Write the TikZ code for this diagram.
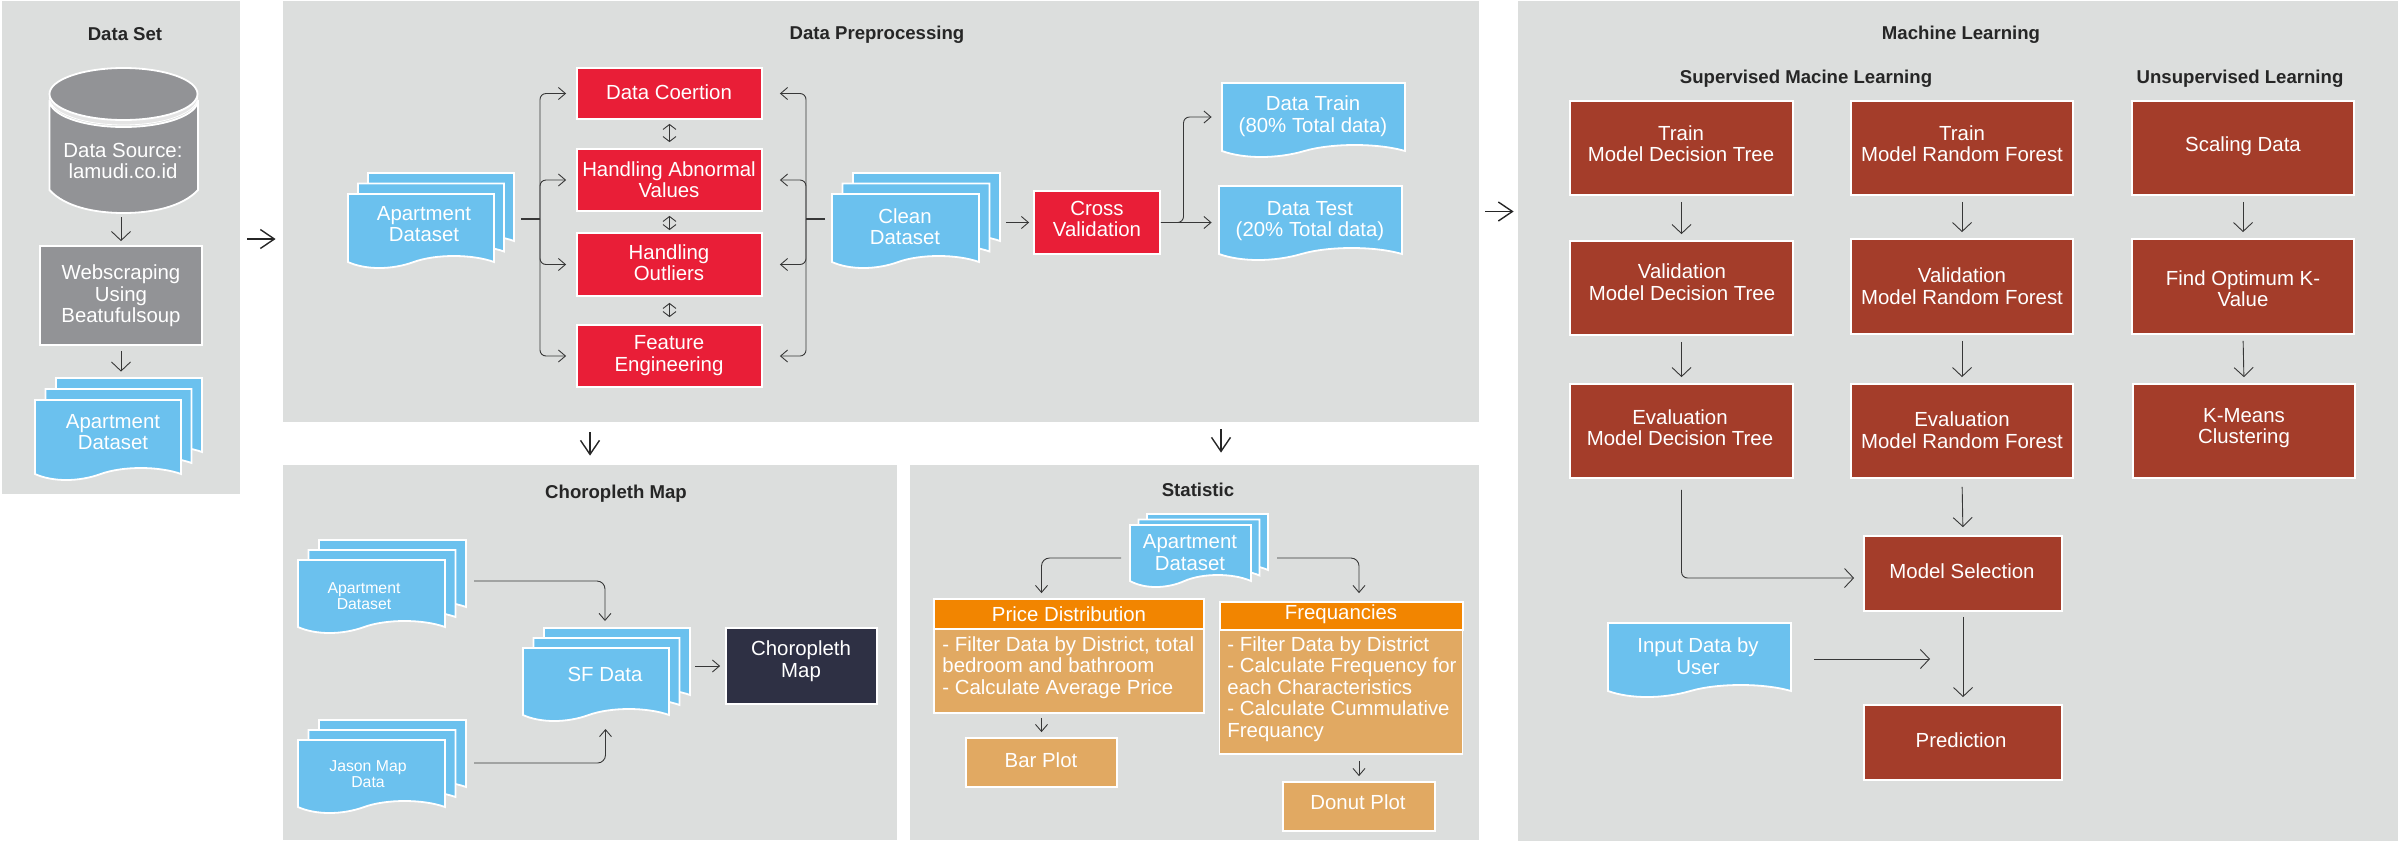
\documentclass[tikz,border=0pt]{standalone}
\usepackage{fontspec}
\setmainfont{Liberation Sans}
\usetikzlibrary{arrows.meta}
\definecolor{mypanel}{RGB}{220,222,221}
\definecolor{myblue}{RGB}{107,193,238}
\definecolor{myred}{RGB}{233,30,55}
\definecolor{mybrown}{RGB}{164,61,42}
\definecolor{mygray}{RGB}{146,147,150}
\definecolor{myorange}{RGB}{242,133,0}
\definecolor{mytan}{RGB}{225,169,98}
\definecolor{mynavy}{RGB}{46,48,68}
\definecolor{myline}{RGB}{55,55,55}
\tikzset{
  panel/.style={fill=mypanel, inner sep=0pt},
  whitebox/.style={draw=white, line width=0.9pt, inner sep=0pt},
  redbox/.style={whitebox, fill=myred},
  mlbox/.style={whitebox, fill=mybrown},
  graybox/.style={whitebox, fill=mygray},
  navybox/.style={whitebox, fill=mynavy},
  headbox/.style={whitebox, fill=myorange},
  tanbox/.style={whitebox, fill=mytan},
  docbox/.style={inner sep=0pt},
  docline/.style={draw=white, line width=0.9pt, fill=myblue},
  title/.style={text=black!85, font=\fontsize{9.3}{11}\bfseries\selectfont, align=center},
  boxtext/.style={text=white, font=\fontsize{10.2}{10.75}\selectfont, align=center, inner sep=0pt},
  smalltext/.style={text=white, font=\fontsize{7.9}{8}\selectfont, align=center, inner sep=0pt},
  listtext/.style={text=white, font=\fontsize{10.2}{10.75}\selectfont, align=left, anchor=west, inner sep=0pt},
  flow/.style={draw=myline, line width=0.45pt, -{Straight Barb[length=4.5pt,width=9.5pt]}, shorten >=3pt, shorten <=3pt},
  thinflow/.style={flow, -{Straight Barb[length=3.5pt,width=6pt]}},
  bothflow/.style={draw=myline, line width=0.45pt, {Straight Barb[length=2.5pt,width=6.5pt]}-{Straight Barb[length=2.5pt,width=6.5pt]}},
  bigflow/.style={draw=black!85, line width=0.7pt, -{Straight Barb[length=7pt,width=9.5pt]}}
}
\newcommand{\flowbox}[9]{
  \node[#2, minimum width={(#5-#3)*0.5pt}, minimum height={(#6-#4)*0.5pt}] (#1) at ({(#3+#5)/2},{(#4+#6)/2}) {};
  \node[boxtext] (#1-text) at (#7,#8) {#9};
}
\newcommand{\docnode}[5]{
  \draw[docline] ({#2},{#3}) -- ({#4},{#3}) -- ({#4},{#5})
    .. controls ({#4-0.15*(#4-#2)},{#5-8}) and ({#4-0.4*(#4-#2)},{#5-8}) .. ({#2+0.45*(#4-#2)},{#5})
    .. controls ({#2+0.3*(#4-#2)},{#5+8}) and ({#2+0.12*(#4-#2)},{#5+8}) .. ({#2},{#5}) -- cycle;
  \node[docbox, minimum width={(#4-#2)*0.5pt}, minimum height={(#5-(#3))*0.5pt}] (#1) at ({(#2+#4)/2},{(#3+#5)/2}) {};
}
\newcommand{\docstack}[7]{
  \docnode{#1-back}{(#2+2*#6)}{(#3-2*#7)}{(#4+2*#6)}{(#5-2*#7)}
  \docnode{#1-mid}{(#2+#6)}{(#3-#7)}{(#4+#6)}{(#5-#7)}
  \docnode{#1}{#2}{#3}{#4}{#5}
}
\begin{document}
\begin{tikzpicture}[x=0.5pt,y=-0.5pt]
  \useasboundingbox (0,0) rectangle (2398,842);

  \node[panel, minimum width=119pt, minimum height=246.5pt] (setpanel) at (121,247.5) {};
  \node[panel, minimum width=598pt, minimum height=210.5pt] (prepanel) at (881,211.5) {};
  \node[panel, minimum width=307pt, minimum height=187.5pt] (mappanel) at (590,652.5) {};
  \node[panel, minimum width=284.5pt, minimum height=187.5pt] (statpanel) at (1194.5,652.5) {};
  \node[panel, minimum width=440pt, minimum height=420pt] (mlpanel) at (1958,421) {};
  \node[title] (settitle) at (125,34) {Data Set};
  \node[title] (pretitle) at (877,35) {Data Preprocessing};
  \node[title] (maptitle) at (616,494) {Choropleth Map};
  \node[title] (stattitle) at (1198,490) {Statistic};
  \node[title] (mltitle) at (1961,35) {Machine Learning};
  \node[title] (suptitle) at (1806,79) {Supervised Macine Learning};
  \node[title] (unsuptitle) at (2240,79) {Unsupervised Learning};

  \draw[white, line width=0.9pt, fill=mygray] (49.5,100) -- (49.5,190)
    .. controls (65,207) and (95,213) .. (123.5,213)
    .. controls (152,213) and (182,207) .. (198,190) -- (198,100)
    .. controls (198,115) and (165,127) .. (123.5,127)
    .. controls (82,127) and (49.5,115) .. (49.5,100) -- cycle;
  \draw[white, fill=black!10] (123.5,98) ellipse [x radius=37pt, y radius=13.5pt];
  \draw[white, line width=0.9pt, fill=mygray] (123.5,94) ellipse [x radius=37pt, y radius=13pt];
  \node[inner sep=0pt, minimum width=74pt, minimum height=72.5pt] (source) at (123.5,140.5) {};
  \node[boxtext] (source-text) at (123,161) {Data Source:\\lamudi.co.id};
  \flowbox{webscrape}{graybox}{40}{246}{202}{345}{121}{296}{Webscraping\\Using\\Beatufulsoup}
  \docstack{setdata}{35}{400}{181}{474}{10.5}{11}
  \node[boxtext] (setdata-text) at (113,432) {Apartment\\Dataset};

  \docstack{apart}{348}{194}{494}{262}{10}{10.5}
  \node[boxtext] (apart-text) at (424,224) {Apartment\\Dataset};
  \flowbox{coertion}{redbox}{577}{68}{762}{119}{669}{92}{Data Coertion}
  \flowbox{abnormal}{redbox}{577}{149}{762}{211}{669}{179.5}{Handling Abnormal\\Values}
  \flowbox{outliers}{redbox}{577}{233}{762}{296}{669}{262.5}{Handling\\Outliers}
  \flowbox{feature}{redbox}{577}{325}{762}{387}{669}{355.5}{Feature\\Engineering}
  \docstack{clean}{832}{194}{979}{262}{10.5}{10.5}
  \node[boxtext] (clean-text) at (905,226.5) {Clean\\Dataset};
  \flowbox{cross}{redbox}{1034}{191}{1160}{254}{1097}{219}{Cross\\Validation}
  \docnode{datatrain}{1222}{83}{1405}{151}
  \node[boxtext] (datatrain-text) at (1313,116) {Data Train\\(80\% Total data)};
  \docnode{datatest}{1219}{186}{1402}{254}
  \node[boxtext] (datatest-text) at (1310,221) {Data Test\\(20\% Total data)};

  \coordinate (leftstem) at (521,219);
  \coordinate (lefthub) at (540,219);
  \coordinate (rightstem) at (825,219);
  \coordinate (righthub) at (806,219);
  \coordinate (crosshub) at (1183.5,222.5);
  \draw[myline, line width=0.7pt] (leftstem) -- (lefthub);
  \draw[myline, line width=0.7pt] (rightstem) -- (righthub);
  \foreach \t in {coertion,abnormal,outliers,feature} {
    \draw[thinflow, rounded corners=3pt, shorten <=0pt, shorten >=5pt] (lefthub) |- (\t.west);
    \draw[thinflow, rounded corners=3pt, shorten <=0pt, shorten >=8.5pt] (righthub) |- (\t.east);
  }
  \draw[bothflow, shorten <=2pt, shorten >=3pt] (coertion.south) -- (abnormal.north);
  \draw[bothflow, shorten <=2pt, shorten >=1pt] (abnormal.south) -- (outliers.north);
  \draw[bothflow, shorten <=3pt, shorten >=3.5pt] (outliers.south) -- (feature.north);
  \draw[thinflow, shorten >=2pt] (clean-back.east |- cross.west) -- (cross.west);
  \draw[thinflow, shorten <=0pt, shorten >=3.5pt] (cross.east) -- (cross.east -| datatest.west);
  \draw[thinflow, rounded corners=3pt, shorten <=0pt, shorten >=5pt] (cross.east) -- (crosshub) |- (datatrain.west);

  \draw[flow, shorten <=2pt, shorten >=2pt] (source.south -| webscrape.north) -- (webscrape.north);
  \draw[flow, shorten <=2.5pt, shorten >=3pt] (webscrape.south) -- (webscrape.south |- setdata-back.north);

  \coordinate (setarrow) at (240,239);
  \coordinate (statarrow) at (1221,422);
  \draw[bigflow, shorten <=3.5pt, shorten >=3.5pt] (setarrow) -- (setarrow -| prepanel.west);
  \draw[bigflow, shorten <=3pt, shorten >=2pt] (prepanel.east) -- (mlpanel.west |- prepanel.east);
  \draw[bigflow, shorten <=5pt, shorten >=4.5pt] (mappanel.north |- prepanel.south) -- (mappanel.north);
  \draw[bigflow, shorten <=3.5pt, shorten >=6pt] (statarrow) -- (statarrow |- statpanel.north);

  \docstack{mapapart}{298}{560}{445}{627}{10.5}{10}
  \node[smalltext] (mapapart-text) at (364,596) {Apartment\\Dataset};
  \docstack{mapjson}{298}{740}{445}{807}{10.5}{10}
  \node[smalltext] (mapjson-text) at (368,774) {Jason Map\\Data};
  \docstack{sfdata}{523}{648}{669}{715}{10.5}{10}
  \node[boxtext] (sfdata-text) at (605,674) {SF Data};
  \flowbox{chorobox}{navybox}{726}{628}{877}{704}{801}{661}{Choropleth\\Map}
  \coordinate (mapin1) at (474,581);
  \coordinate (mapin2) at (474,763);
  \coordinate (sftop) at (605,621);
  \coordinate (sfbottom) at (605.5,729);
  \draw[thinflow, rounded corners=4pt, shorten <=0pt, shorten >=0pt] (mapin1) -| (sftop);
  \draw[thinflow, rounded corners=4pt, shorten <=0pt, shorten >=0pt] (mapin2) -| (sfbottom);
  \draw[thinflow, shorten <=2.5pt, shorten >=2.5pt] (sfdata-back.east |- chorobox.west) -- (chorobox.west);

  \docstack{statdata}{1130}{525}{1251}{581}{8.5}{5.5}
  \node[boxtext] (statdata-text) at (1190,552.5) {Apartment\\Dataset};
  \flowbox{pricehead}{headbox}{934}{599}{1204}{629}{1069}{614}{Price Distribution}
  \node[whitebox, fill=mytan, minimum width=135pt, minimum height=42pt] (pricebody) at (1069,671) {};
  \node[listtext] (pricebody-text) at (942,667.5) {- Filter Data by District, total\\bedroom and bathroom\\- Calculate Average Price};
  \flowbox{freqhead}{headbox}{1220}{602}{1463}{630}{1341}{614}{Frequancies}
  \node[whitebox, fill=mytan, minimum width=121.5pt, minimum height=62pt] (freqbody) at (1341,692) {};
  \node[listtext] (freqbody-text) at (1227,689) {- Filter Data by District\\- Calculate Frequency for\\each Characteristics\\- Calculate Cummulative\\Frequancy};
  \flowbox{barplot}{tanbox}{966}{738}{1117}{787}{1041}{760}{Bar Plot}
  \flowbox{donut}{tanbox}{1283}{782}{1435}{831}{1358}{802}{Donut Plot}
  \coordinate (statleft) at (1121,558);
  \coordinate (statright) at (1277,558);
  \draw[thinflow, rounded corners=4pt, shorten <=0pt, shorten >=2.5pt] (statleft) -| (pricehead.north -| barplot.north);
  \draw[thinflow, rounded corners=4pt, shorten <=0pt, shorten >=4pt] (statright) -| (freqhead.north -| donut.north);
  \draw[thinflow, shorten <=2pt, shorten >=2.5pt] (pricebody.south -| barplot.north) -- (barplot.north);
  \draw[thinflow, shorten <=3pt, shorten >=2.5pt] (freqbody.south -| donut.north) -- (donut.north);

  \flowbox{train1}{mlbox}{1570}{101}{1793}{195}{1681}{143.5}{Train\\Model Decision Tree}
  \flowbox{train2}{mlbox}{1851}{101}{2073}{195}{1962}{143.5}{Train\\Model Random Forest}
  \flowbox{scaling}{mlbox}{2132}{101}{2354}{195}{2243}{146}{Scaling Data}
  \flowbox{valid1}{mlbox}{1570}{241}{1793}{335}{1682}{282}{Validation\\Model Decision Tree}
  \flowbox{valid2}{mlbox}{1851}{239}{2073}{334}{1962}{286}{Validation\\Model Random Forest}
  \flowbox{findk}{mlbox}{2132}{239}{2354}{334}{2243}{288.5}{Find Optimum K-\\Value}
  \flowbox{eval1}{mlbox}{1570}{384}{1793}{478}{1680}{427.5}{Evaluation\\Model Decision Tree}
  \flowbox{eval2}{mlbox}{1851}{384}{2073}{478}{1962}{430}{Evaluation\\Model Random Forest}
  \flowbox{kmeans}{mlbox}{2133}{384}{2355}{478}{2244}{428}{K-Means\\Clustering}
  \flowbox{select}{mlbox}{1864}{536}{2062}{611}{1962}{571}{Model Selection}
  \flowbox{predict}{mlbox}{1864}{705}{2062}{780}{1961}{740}{Prediction}
  \docnode{inputdoc}{1608}{623}{1791}{691}
  \node[boxtext] (inputdoc-text) at (1698,656) {Input Data by\\User};
  \coordinate (predin) at (1930,659);
  \foreach \a/\b in {train1/valid1,valid1/eval1,train2/valid2,valid2/eval2,scaling/findk,findk/kmeans} {
    \draw[flow] (\a.south) -- (\b.north);
  }
  \draw[flow, shorten <=4pt, shorten >=4pt] (eval2.south) -- (select.north);
  \draw[flow, shorten <=2.5pt, shorten >=3.5pt] (select.south) -- (predict.north);
  \draw[flow, rounded corners=3pt, shorten <=5.5pt, shorten >=4.5pt] (eval1.south) |- ([yshift=-2.25pt]select.west);
  \draw[flow, shorten <=11.5pt, shorten >=0pt] (inputdoc.east |- predin) -- (predin);
\end{tikzpicture}
\end{document}
